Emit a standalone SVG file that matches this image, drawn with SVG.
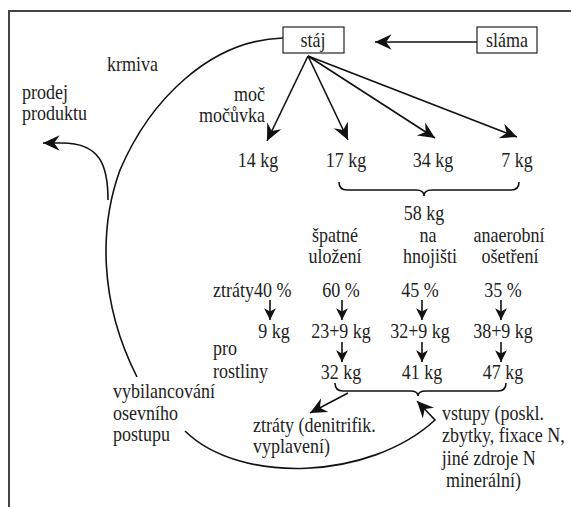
<svg xmlns="http://www.w3.org/2000/svg" width="571" height="507" viewBox="0 0 571 507">
<style>
text{font-family:"Liberation Serif","Times New Roman",serif;font-size:21px;fill:#222;transform:scaleX(0.857);transform-box:fill-box;transform-origin:0% 50%}
.m{text-anchor:middle;transform-origin:50% 50%}
.e{text-anchor:end;transform-origin:100% 50%}
.ln{fill:none;stroke:#111;stroke-width:1.6}
.bx{fill:#fff;stroke:#222;stroke-width:1.2}
</style>
<defs>
<marker id="ah" markerUnits="userSpaceOnUse" markerWidth="20" markerHeight="20" refX="0" refY="0" viewBox="-16 -8 18 16" orient="auto">
<path d="M0,0 L-15,-7 L-10,0 L-15,7 Z" fill="#111"/>
</marker>
<marker id="as" markerUnits="userSpaceOnUse" markerWidth="14" markerHeight="14" refX="0" refY="0" viewBox="-12 -6 13 12" orient="auto">
<path d="M0,0 L-11,-5.5 L-8,0 L-11,5.5 Z" fill="#111"/>
</marker>
</defs>
<g id="frame"><path d="M9,507 L9,11 L571,11" fill="none" stroke="#444" stroke-width="2"/></g>
<g id="connectors">
<path class="ln" d="M283,38 C210,40 150,100 120,170 C100,225 98,300 137,377"/>
<path class="ln" d="M108,200 C108,165 100,143 62,143 L43,143" marker-end="url(#ah)"/>
<path class="ln" d="M477,42 L375,42" marker-end="url(#ah)"/>
<path class="ln" d="M308,56 L267,141" marker-end="url(#ah)"/>
<path class="ln" d="M308,56 L348,140" marker-end="url(#ah)"/>
<path class="ln" d="M308,56 L435,138" marker-end="url(#ah)"/>
<path class="ln" d="M308,56 L517,137" marker-end="url(#ah)"/>
<path class="ln" d="M339,182 Q339,190 347,190 L416,190 Q424,190 424,196 Q424,190 432,190 L511,190 Q519,190 519,182"/>
<path class="ln" d="M270,300 L270,320" marker-end="url(#as)"/>
<path class="ln" d="M342,300 L342,320" marker-end="url(#as)"/>
<path class="ln" d="M422,300 L422,320" marker-end="url(#as)"/>
<path class="ln" d="M501,300 L501,320" marker-end="url(#as)"/>
<path class="ln" d="M342,342 L342,362" marker-end="url(#as)"/>
<path class="ln" d="M422,342 L422,362" marker-end="url(#as)"/>
<path class="ln" d="M501,342 L501,362" marker-end="url(#as)"/>
<path class="ln" d="M335,383 Q335,391 343,391 L410,391 Q418,391 418,396 Q418,391 426,391 L498,391 Q506,391 506,383"/>
<path class="ln" d="M348,393 L310,413" marker-end="url(#ah)"/>
<path class="ln" d="M185,431 C240,485 370,480 435,420 L417,401" marker-end="url(#ah)"/>
</g>
<g id="staj"><rect class="bx" x="283" y="27" width="61" height="26"/><text class="m" x="313" y="47">stáj</text></g>
<g id="slama"><rect class="bx" x="477" y="27" width="60" height="26"/><text class="m" x="507" y="47">sláma</text></g>
<g id="krmiva"><text x="107" y="71">krmiva</text></g>
<g id="prodej"><text x="22" y="99">prodej</text><text x="22" y="120">produktu</text></g>
<g id="moc"><text class="e" x="265" y="101">moč</text><text class="e" x="265" y="122">močůvka</text></g>
<g id="kg1"><text class="m" x="258" y="167">14 kg</text></g>
<g id="kg2"><text class="m" x="346" y="167">17 kg</text></g>
<g id="kg3"><text class="m" x="433" y="167">34 kg</text></g>
<g id="kg4"><text class="m" x="517" y="167">7 kg</text></g>
<g id="kg58"><text class="m" x="424" y="220">58 kg</text></g>
<g id="spatne"><text class="m" x="335" y="242">špatné</text><text class="m" x="335" y="263">uložení</text></g>
<g id="hnojiste"><text class="m" x="428" y="242">na</text><text class="m" x="430" y="263">hnojišti</text></g>
<g id="anaerobni"><text class="m" x="509" y="242">anaerobní</text><text class="m" x="510" y="263">ošetření</text></g>
<g id="ztraty"><text x="213" y="297">ztráty40 %</text></g>
<g id="p60"><text class="m" x="341" y="297">60 %</text></g>
<g id="p45"><text class="m" x="420" y="297">45 %</text></g>
<g id="p35"><text class="m" x="503" y="297">35 %</text></g>
<g id="kg9"><text class="m" x="274" y="338">9 kg</text></g>
<g id="kg23"><text class="m" x="341" y="338">23+9 kg</text></g>
<g id="kg32b"><text class="m" x="420" y="338">32+9 kg</text></g>
<g id="kg38"><text class="m" x="503" y="338">38+9 kg</text></g>
<g id="pro"><text x="213" y="355">pro</text><text x="213" y="378">rostliny</text></g>
<g id="kg32"><text class="m" x="341" y="379">32 kg</text></g>
<g id="kg41"><text class="m" x="422" y="379">41 kg</text></g>
<g id="kg47"><text class="m" x="503" y="379">47 kg</text></g>
<g id="vybil"><text x="113" y="398">vybilancování</text><text x="113" y="420">osevního</text><text x="113" y="441">postupu</text></g>
<g id="ztraty2"><text x="253" y="432">ztráty (denitrifik.</text><text x="253" y="453">vyplavení)</text></g>
<g id="vstupy"><text x="442" y="420">vstupy (poskl.</text><text x="442" y="442">zbytky, fixace N,</text><text x="442" y="465">jiné zdroje N</text><text x="446" y="487">minerální)</text></g>
</svg>
